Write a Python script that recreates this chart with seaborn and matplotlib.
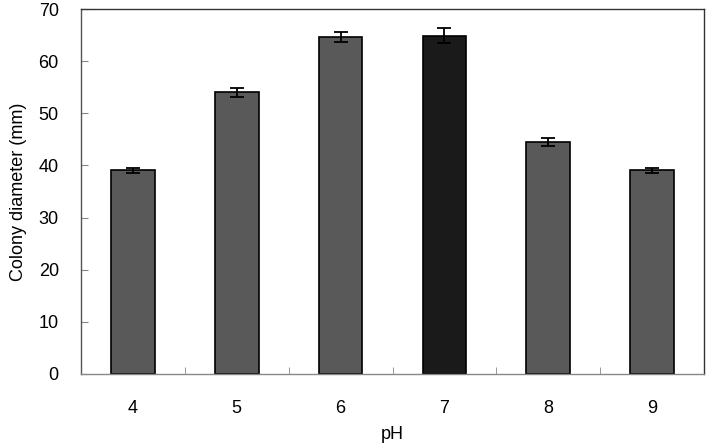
import matplotlib
matplotlib.use("Agg")
import matplotlib.pyplot as plt
import seaborn as sns
import pandas as pd
import numpy as np
from matplotlib.ticker import FixedLocator

ph = ["4", "5", "6", "7", "8", "9"]
diam = [39.1, 54.0, 64.6, 64.9, 44.5, 39.1]
err = [0.5, 0.8, 0.9, 1.5, 0.7, 0.5]
colors = ["#595959", "#595959", "#595959", "#1a1a1a", "#595959", "#595959"]

sns.set_style("white")
plt.rcParams['font.family'] = ['Liberation Sans', 'DejaVu Sans']
plt.rcParams['text.color'] = 'black'
plt.rcParams['axes.labelcolor'] = 'black'
plt.rcParams['xtick.color'] = 'black'
plt.rcParams['ytick.color'] = 'black'

df = pd.DataFrame({"pH": ph, "d": diam})
fig = plt.figure(figsize=(7.11, 4.46), dpi=100)
ax = fig.add_axes([81/711, 1 - 374/446, (704-81)/711, (374-9)/446])
sns.barplot(data=df, x="pH", y="d", hue="pH", palette=colors, legend=False,
            width=0.42, edgecolor="black", linewidth=1.2, ax=ax, errorbar=None)
xs = np.arange(len(ph))
ax.errorbar(xs, diam, yerr=err, fmt="none", ecolor="black", elinewidth=1.3, capsize=5, capthick=1.3)

ax.set_ylim(0, 70)
ax.set_xlim(-0.5, 5.5)
ax.set_yticks(range(0, 71, 10))
ax.xaxis.set_minor_locator(FixedLocator(np.arange(0.5, 5.5, 1.0)))
ax.tick_params(axis="x", which="major", length=0, pad=19, labelsize=13)
ax.tick_params(axis="x", which="minor", length=5, direction="in", color="#888888", bottom=True)
ax.tick_params(axis="y", which="major", length=5, direction="in", color="#888888", left=True, labelsize=13, pad=16)
ax.set_xlabel("pH", fontsize=13, labelpad=6)
ax.set_ylabel("Colony diameter (mm)", fontsize=13, labelpad=8)
for s in ax.spines.values():
    s.set_color("#333333")
    s.set_linewidth(1.0)
ax.spines["bottom"].set_color("#888888")
ax.spines["left"].set_color("#555555")
fig.savefig("out.png", dpi=100)
